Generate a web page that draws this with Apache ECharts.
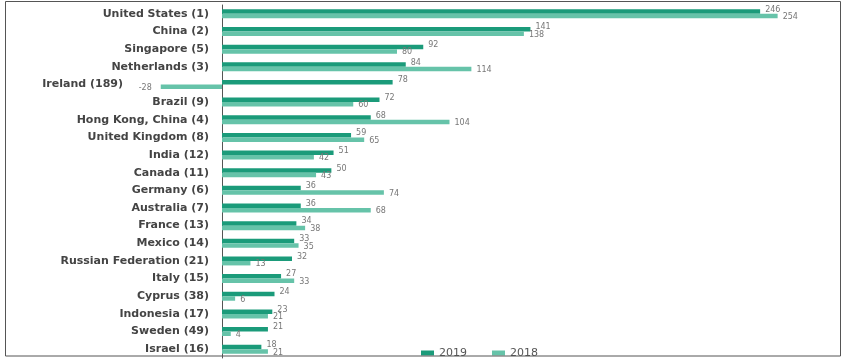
<!DOCTYPE html>
<html>
<head>
<meta charset="utf-8">
<script src="https://cdn.jsdelivr.net/npm/echarts@6/dist/echarts.min.js"></script>
<style>html,body{margin:0;padding:0;background:#fff;}#c{width:847px;height:361px;}</style>
</head>
<body>
<div id="c"></div>
<script>
const categories = ["United States (1)","China (2)","Singapore (5)","Netherlands (3)","Ireland (189)","Brazil (9)","Hong Kong, China (4)","United Kingdom (8)","India (12)","Canada (11)","Germany (6)","Australia (7)","France (13)","Mexico (14)","Russian Federation (21)","Italy (15)","Cyprus (38)","Indonesia (17)","Sweden (49)","Israel (16)"];
const values2019 = [246,141,92,84,78,72,68,59,51,50,36,36,34,33,32,27,24,23,21,18];
const values2018 = [254,138,80,114,-28,60,104,65,42,43,74,68,38,35,13,33,6,21,4,21];
const seriesNames = ["2019","2018"];

const chart = echarts.init(document.getElementById('c'));
function toData(arr, dy) {
  return arr.map(v => v < 0
    ? { value: v, label: { position: 'left', distance: 9, offset: [0, dy] } }
    : { value: v });
}
chart.setOption({
  animation: false,
  backgroundColor: '#fff',
  grid: { left: 134.5, right: 12.5, top: 5, bottom: 3, containLabel: false, outerBoundsMode: 'none' },
  xAxis: {
    type: 'value', min: -40, max: 280,
    axisLabel: { show: false }, splitLine: { show: false },
    axisLine: { show: false }, axisTick: { show: false }
  },
  yAxis: {
    type: 'category', data: categories, inverse: true,
    axisLine: { show: true, onZero: true, lineStyle: { color: '#555', width: 1 } },
    axisTick: { show: false },
    axisLabel: {
      margin: -74.5, color: '#444', fontFamily: 'DejaVu Sans', fontWeight: 'bold', fontSize: 11,
      formatter: v => v === 'Ireland (189)' ? '{ir|' + v + '}' : v,
      rich: { ir: { padding: [0, 86, 0, 0], color: '#444', fontFamily: 'DejaVu Sans', fontWeight: 'bold', fontSize: 11 } }
    }
  },
  legend: {
    left: 416, top: 342.5, itemWidth: 13, itemHeight: 5, itemGap: 25,
    icon: 'rect',
    textStyle: { color: '#555', fontFamily: 'DejaVu Sans', fontSize: 11 },
    data: seriesNames
  },
  graphic: [{
    type: 'rect', shape: { x: 5.5, y: 1.5, width: 835, height: 354.5 },
    style: { fill: 'none', stroke: '#555', lineWidth: 1 }, z: 100
  }],
  series: [
    {
      name: seriesNames[0], type: 'bar', data: toData(values2019, -2),
      barWidth: 4.5, barGap: '0%',
      itemStyle: { color: '#1b9b7a' },
      label: { show: true, position: 'right', distance: 5, offset: [0, -2], color: '#777', fontFamily: 'DejaVu Sans', fontSize: 8 }
    },
    {
      name: seriesNames[1], type: 'bar', data: toData(values2018, 1),
      barWidth: 4.5, barGap: '0%',
      itemStyle: { color: '#66c3a9' },
      label: { show: true, position: 'right', distance: 5, offset: [0, 1], color: '#777', fontFamily: 'DejaVu Sans', fontSize: 8 }
    }
  ]
});
</script>
</body>
</html>
